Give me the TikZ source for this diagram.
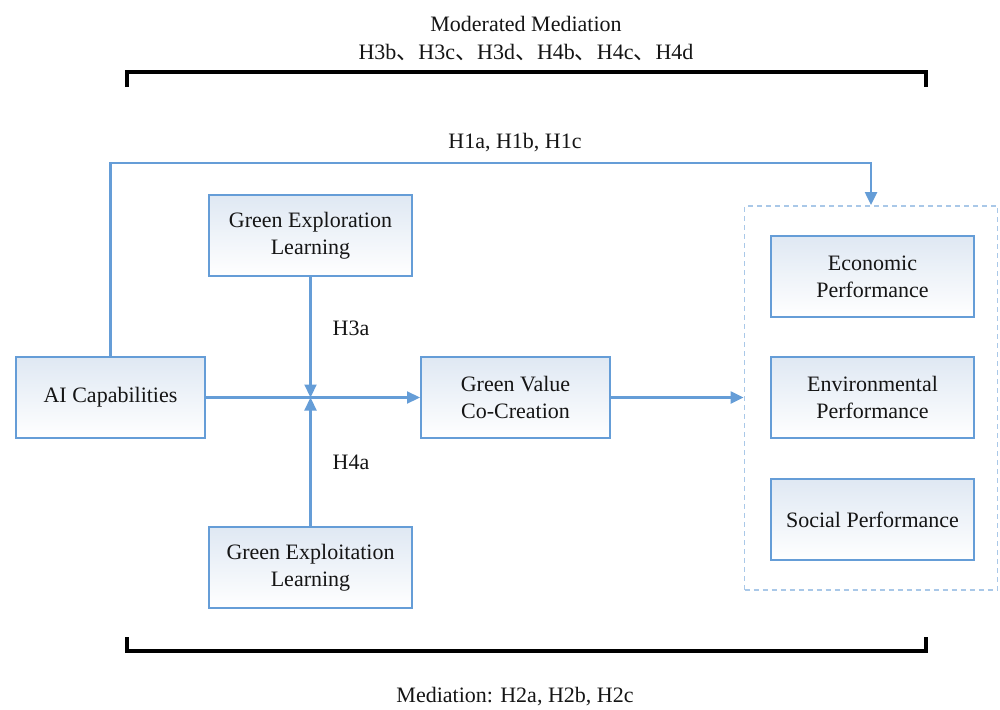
\documentclass[tikz,border=0pt]{standalone}
\usepackage{fontspec}
\setmainfont{Liberation Serif}
\newfontfamily\cjk{Noto Sans CJK SC}
\usetikzlibrary{arrows.meta,positioning}
\definecolor{boxline}{HTML}{659DD7}
\definecolor{boxtop}{HTML}{DFE8F3}
\definecolor{dashline}{HTML}{A9C8E8}
\definecolor{txt}{HTML}{151515}
\tikzset{
  vbox/.style={draw=boxline, line width=2pt, top color=boxtop, bottom color=white,
    minimum height=81pt, align=center, text=txt, inner sep=2pt,
    font=\fontsize{22}{27}\selectfont},
  conn/.style={draw=boxline, line width=2.2pt},
  arr/.style={conn, -{Triangle[length=13pt,width=12pt]}},
  lbl/.style={text=txt, font=\fontsize{22}{27}\selectfont, inner sep=0pt},
  brk/.style={draw=black, line width=3.2pt}
}
\begin{document}
\begin{tikzpicture}[x=1pt,y=-1pt]
\useasboundingbox (0,0) rectangle (1000,709);
\node[vbox, minimum width=189pt] (ai) at (110.5,397.5) {AI Capabilities};
\node[vbox, minimum width=203pt] (explor) at (310.5,235.5) {Green Exploration\\Learning};
\node[vbox, minimum width=203pt] (exploit) at (310.5,567.5) {Green Exploitation\\Learning};
\node[vbox, minimum width=189pt] (gvc) at (515.5,397.5) {Green Value\\Co-Creation};
\node[draw=dashline, line width=1.8pt, dash pattern=on 5pt off 4pt, minimum width=253pt, minimum height=384pt] (perf) at (871,398) {};
\node[vbox, minimum width=203pt] (econ) at (872.5,276.5) {Economic\\Performance};
\node[vbox, minimum width=203pt] (env) at (872.5,397.5) {Environmental\\Performance};
\node[vbox, minimum width=203pt] (soc) at (872.5,519.5) {Social Performance};
\coordinate (m) at (310.5,397.5);
\coordinate (h1) at (110.5,163);
\draw[arr] (ai) -- (gvc);
\draw[arr] (explor) -- (m);
\draw[arr] (exploit) -- (m);
\draw[arr] (gvc) -- (perf.west |- gvc);
\draw[arr] (ai.north -| h1) -- (h1) -| (perf.north);
\node[lbl] (l1) at (515,143) {H1a, H1b, H1c};
\node[lbl] (l3) at (351,328) {H3a};
\node[lbl] (l4) at (351,462) {H4a};
\node[lbl] (t1) at (526,24) {Moderated Mediation};
\node[lbl] (t2) at (526,52) {H3b{\cjk 、}H3c{\cjk 、}H3d{\cjk 、}H4b{\cjk 、}H4c{\cjk 、}H4d};
\node[lbl] (t3) at (515,697) {Mediation: H2a, H2b, H2c};
\draw[brk] (127,87) -- (127,72) -- (926,72) -- (926,87);
\draw[brk] (127,637) -- (127,651) -- (926,651) -- (926,637);
\end{tikzpicture}
\end{document}
